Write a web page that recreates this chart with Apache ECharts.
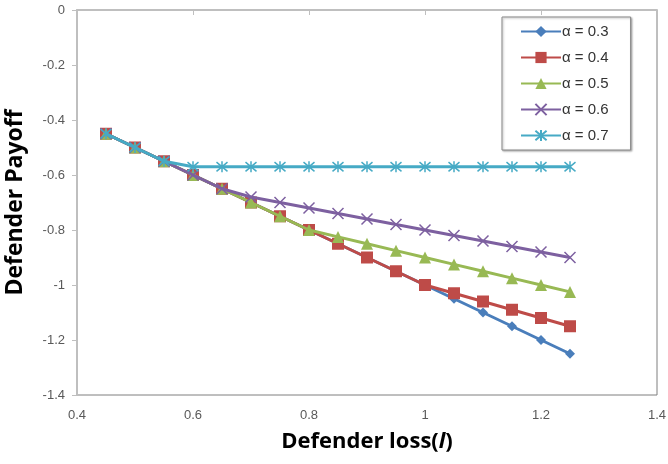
<!DOCTYPE html>
<html>
<head>
<meta charset="utf-8">
<script src="https://cdn.jsdelivr.net/npm/echarts@6/dist/echarts.min.js"></script>
<style>
  html, body { margin: 0; padding: 0; background: #fff; }
  #chart { width: 668px; height: 464px; }
</style>
</head>
<body>
<div id="chart"></div>
<script>
// defender loss (x values)
const losses = [0.45, 0.5, 0.55, 0.6, 0.65, 0.7, 0.75, 0.8, 0.85, 0.9, 0.95, 1.0, 1.05, 1.1, 1.15, 1.2, 1.25];

// defender payoff per alpha
const alpha03 = [-0.45, -0.5, -0.55, -0.6, -0.65, -0.7, -0.75, -0.8, -0.85, -0.9, -0.95, -1.0, -1.05, -1.1, -1.15, -1.2, -1.25];
const alpha04 = [-0.45, -0.5, -0.55, -0.6, -0.65, -0.7, -0.75, -0.8, -0.85, -0.9, -0.95, -1.0, -1.03, -1.06, -1.09, -1.12, -1.15];
const alpha05 = [-0.45, -0.5, -0.55, -0.6, -0.65, -0.7, -0.75, -0.8, -0.825, -0.85, -0.875, -0.9, -0.925, -0.95, -0.975, -1.0, -1.025];
const alpha06 = [-0.45, -0.5, -0.55, -0.6, -0.65, -0.68, -0.7, -0.72, -0.74, -0.76, -0.78, -0.8, -0.82, -0.84, -0.86, -0.88, -0.9];
const alpha07 = [-0.45, -0.5, -0.55, -0.57, -0.57, -0.57, -0.57, -0.57, -0.57, -0.57, -0.57, -0.57, -0.57, -0.57, -0.57, -0.57, -0.57];

const seriesNames = ['α = 0.3', 'α = 0.4', 'α = 0.5', 'α = 0.6', 'α = 0.7'];
const seriesValues = [alpha03, alpha04, alpha05, alpha06, alpha07];
const colors = ['#4A7EBB', '#BE4B48', '#98B954', '#7D60A0', '#46AAC5'];
const symbols = [
  'diamond',
  'rect',
  'triangle',
  'path://M0,0L10,10M10,0L0,10',
  'path://M0,0L10,10M10,0L0,10M5,-1L5,11'
];
const symbolSizes = [10, 12, 12, 11, 11];

const chart = echarts.init(document.getElementById('chart'));

const series = seriesValues.map((vals, i) => {
  const stroked = i >= 3;
  return {
    name: seriesNames[i],
    type: 'line',
    data: losses.map((x, j) => [x, vals[j]]),
    symbol: symbols[i],
    symbolSize: symbolSizes[i],
    showAllSymbol: true,
    lineStyle: { width: 3, color: colors[i] },
    itemStyle: stroked
      ? { color: colors[i], borderColor: colors[i], borderWidth: 1.5 }
      : { color: colors[i], borderWidth: 0 },
    emphasis: { disabled: true },
    z: 2 + i
  };
});

const titleFont = { fontFamily: 'Open Sans', fontWeight: 'bold', fontSize: 22, color: '#000' };

chart.setOption({
  animation: false,
  color: colors,
  grid: {
    left: 77, right: 11, top: 10, bottom: 69,
    outerBoundsMode: 'none',
    show: true, borderColor: '#7f7f7f', borderWidth: 1
  },
  legend: {
    orient: 'vertical',
    left: 502,
    top: 17,
    padding: [7, 22, 7, 18],
    itemGap: 11,
    itemWidth: 40,
    itemHeight: 14,
    borderColor: '#888',
    borderWidth: 1,
    shadowColor: 'rgba(0,0,0,0.3)',
    shadowBlur: 2,
    shadowOffsetX: 1,
    shadowOffsetY: 1,
    backgroundColor: '#fff',
    textStyle: { fontFamily: 'Liberation Sans', fontSize: 15, color: '#333', padding: [0, 0, 0, -4] },
    data: seriesNames
  },
  xAxis: {
    type: 'value',
    min: 0.4,
    max: 1.4,
    interval: 0.2,
    name: '{t|Defender loss(}{i|l}{t|)}',
    nameLocation: 'middle',
    nameGap: 36,
    nameTextStyle: {
      rich: {
        t: titleFont,
        i: Object.assign({}, titleFont, { fontStyle: 'italic' })
      }
    },
    axisLine: { lineStyle: { color: '#bfbfbf', width: 2 } },
    axisTick: { show: true, length: 5, lineStyle: { color: '#bfbfbf' } },
    splitLine: { show: false },
    axisLabel: { fontFamily: 'Liberation Sans', fontSize: 13, color: '#595959', margin: 14 }
  },
  yAxis: {
    type: 'value',
    min: -1.4,
    max: 0,
    interval: 0.2,
    name: 'Defender Payoff',
    nameLocation: 'middle',
    nameGap: 50,
    nameRotate: 90,
    nameTextStyle: Object.assign({}, titleFont, { fontSize: 23 }),
    axisLine: { show: true, lineStyle: { color: '#bfbfbf', width: 2 } },
    axisTick: { show: true, length: 5, lineStyle: { color: '#bfbfbf' } },
    splitLine: { show: false },
    axisLabel: { fontFamily: 'Liberation Sans', fontSize: 13, color: '#595959', margin: 12 }
  },
  series: series
});
</script>
</body>
</html>
